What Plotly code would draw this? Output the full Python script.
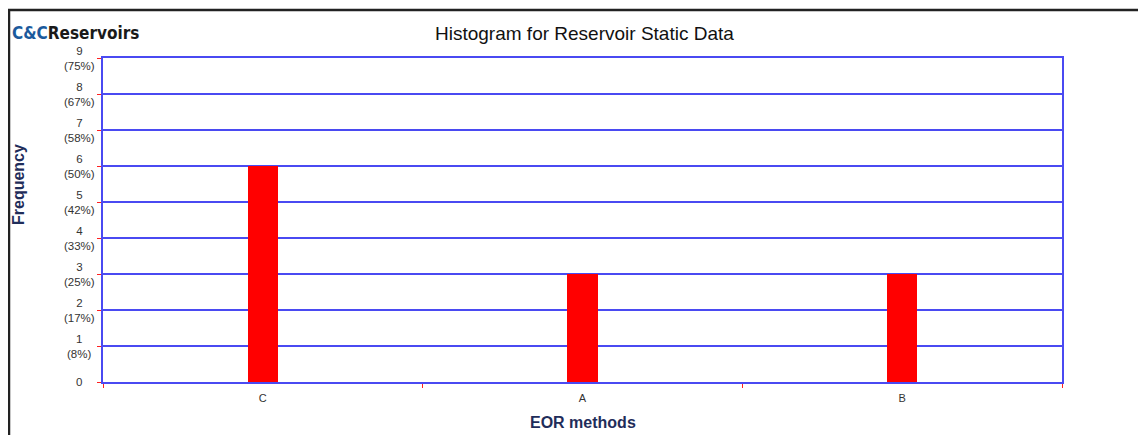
import plotly.graph_objects as go

categories = ["C", "A", "B"]
frequency = [6, 3, 3]
ytick_vals = [0, 1, 2, 3, 4, 5, 6, 7, 8, 9]
ytick_labels = ["0", "1<br>(8%)", "2<br>(17%)", "3<br>(25%)", "4<br>(33%)", "5<br>(42%)",
                "6<br>(50%)", "7<br>(58%)", "8<br>(67%)", "9<br>(75%)"]

OFF = 8  # default page body margin
W, H = 1146 - OFF, 435 - OFF
# plot area in page pixels: x 103..1062, y 58..382
L = 103 - OFF
T = 58 - OFF
R = W - (1062 - OFF)
B = H - (382 - OFF)
pw, ph = W - L - R, H - T - B

def px_x(p):
    return (p - OFF - L) / pw

def px_y(p):
    return (H - B - (p - OFF)) / ph

fig = go.Figure()
fig.add_trace(go.Bar(x=categories, y=frequency, width=0.094,
                     marker=dict(color="#ff0000", line=dict(width=0)), showlegend=False))

grid_blue = "#4a4af2"
fig.update_layout(
    width=W, height=H,
    margin=dict(l=L, r=R, t=T, b=B),
    paper_bgcolor="white", plot_bgcolor="white",
    font=dict(family="Arial, Liberation Sans, sans-serif", color="#333333"),
    bargap=0,
    xaxis=dict(type="category", tickson="boundaries", ticks="outside", ticklen=4,
               tickcolor="#ff2020", tickwidth=1, showgrid=False,
               showline=True, linecolor=grid_blue, linewidth=1.5, mirror=True,
               ticklabelstandoff=5,
               tickfont=dict(size=11, color="#333333"), zeroline=False),
    yaxis=dict(range=[0, 9], tickvals=ytick_vals, showticklabels=False,
               ticks="outside", ticklen=4, tickcolor="#ff2020", tickwidth=1,
               showgrid=True, gridcolor=grid_blue, gridwidth=1.5,
               showline=True, linecolor=grid_blue, linewidth=1.5, mirror=True,
               zeroline=False),
)

for v, t in zip(ytick_vals, ytick_labels):
    fig.add_annotation(x=px_x(79), xref="paper", y=v, yref="y", text=t,
                       showarrow=False, xanchor="center", yanchor="middle",
                       align="center", font=dict(size=11.5, color="#333333"))

# Title
fig.add_annotation(x=px_x(584), xref="paper", y=px_y(33), yref="paper",
                   text="Histogram for Reservoir Static Data", showarrow=False,
                   xanchor="center", yanchor="middle",
                   font=dict(size=19, color="#111111", family="Arial, Liberation Sans, sans-serif"))
# Logo
fig.add_annotation(x=px_x(10), xref="paper", y=px_y(33), yref="paper",
                   text="<b><span style='color:#1b5a9c'>C&amp;C</span><span style='color:#1a1a1a'>Reservoirs</span></b>",
                   showarrow=False, xanchor="left", yanchor="middle",
                   font=dict(size=17, family="DejaVu Sans Condensed, Liberation Sans Narrow, Arial Narrow, sans-serif"))
# Axis titles
fig.add_annotation(x=px_x(583), xref="paper", y=px_y(422), yref="paper",
                   text="<b>EOR methods</b>", showarrow=False, xanchor="center", yanchor="middle",
                   font=dict(size=16, color="#1f2d5a"))
fig.add_annotation(x=px_x(18), xref="paper", y=px_y(185), yref="paper",
                   text="<b>Frequency</b>", showarrow=False, textangle=-90,
                   xanchor="center", yanchor="middle",
                   font=dict(size=16, color="#1f2d5a"))

# Outer frame (top and left edges visible)
fig.add_shape(type="rect", xref="paper", yref="paper",
              x0=px_x(9), x1=px_x(1170), y0=px_y(10), y1=px_y(460),
              line=dict(color="#222222", width=2.5), fillcolor="rgba(0,0,0,0)", layer="above")

fig.write_html("out.html")
